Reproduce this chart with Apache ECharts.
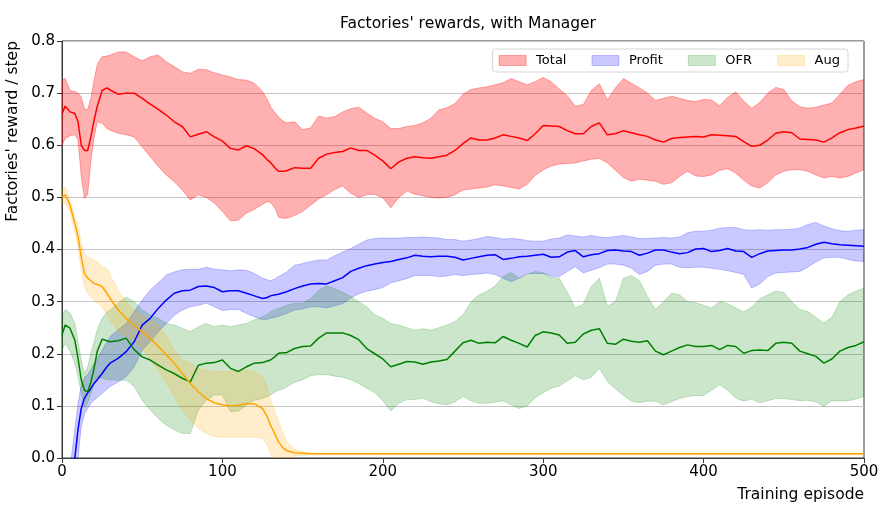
<!DOCTYPE html>
<html>
<head>
<meta charset="utf-8">
<script src="https://cdn.jsdelivr.net/npm/echarts@6/dist/echarts.min.js"></script>
<style>
html,body{margin:0;padding:0;background:#fff;}
#chart{width:891px;height:509px;}
</style>
</head>
<body>
<div id="chart"></div>
<script>
// ---------- DATA ----------
const episodes = [
  0,2,5,8,10,12,14,16,18,20,22,25,28,30,
  35,40,45,50,55,60,65,70,75,80,85,90,95,100,105,110,115,120,125,
  128,130,133,135,138,140,
  145,150,155,160,165,170,175,180,185,190,
  195,200,205,210,215,220,225,230,235,240,
  245,250,255,260,265,270,275,280,285,290,
  295,300,305,310,315,320,325,330,335,340,
  345,350,355,360,365,370,375,380,385,390,
  395,400,405,410,415,420,425,430,435,440,
  445,450,455,460,465,470,475,480,485,490,
  495,500
];

// Total
const totalMean = [
  0.660,0.675,0.664,0.661,0.645,0.600,0.590,0.590,0.616,0.648,0.675,0.705,0.710,0.706,
  0.698,0.700,0.700,0.690,0.679,0.669,0.658,0.645,0.636,0.616,0.621,0.626,0.616,0.608,0.594,0.591,0.599,0.593,0.582,
  0.572,0.567,0.556,0.550,0.550,0.551,
  0.557,0.556,0.556,0.575,0.583,0.586,0.588,0.595,0.590,0.590,
  0.581,0.570,0.555,0.568,0.575,0.578,0.576,0.575,0.578,0.581,
  0.590,0.603,0.614,0.610,0.610,0.614,0.620,0.617,0.614,0.609,
  0.622,0.638,0.637,0.636,0.628,0.622,0.622,0.636,0.643,0.620,
  0.622,0.628,0.624,0.620,0.617,0.610,0.606,0.613,0.615,0.616,
  0.617,0.616,0.620,0.619,0.618,0.617,0.607,0.598,0.600,0.610,
  0.623,0.626,0.624,0.612,0.611,0.610,0.606,0.614,0.624,0.630,
  0.633,0.637
];
const totalHigh = [
  0.725,0.728,0.705,0.703,0.700,0.693,0.670,0.668,0.690,0.725,0.755,0.770,0.771,0.773,
  0.779,0.779,0.770,0.762,0.770,0.773,0.760,0.751,0.741,0.738,0.746,0.745,0.739,0.735,0.731,0.726,0.725,0.719,0.703,
  0.688,0.674,0.662,0.654,0.646,0.643,
  0.645,0.630,0.633,0.656,0.652,0.655,0.664,0.670,0.673,0.662,
  0.652,0.645,0.632,0.632,0.636,0.638,0.643,0.652,0.668,0.672,
  0.680,0.698,0.707,0.710,0.712,0.716,0.720,0.728,0.722,0.716,
  0.722,0.730,0.722,0.708,0.695,0.675,0.678,0.705,0.718,0.687,
  0.710,0.728,0.719,0.710,0.700,0.686,0.690,0.694,0.690,0.686,
  0.684,0.688,0.687,0.676,0.692,0.702,0.685,0.671,0.682,0.700,
  0.711,0.707,0.685,0.674,0.671,0.673,0.677,0.681,0.698,0.715,
  0.722,0.726
];
const totalLow = [
  0.600,0.613,0.618,0.620,0.610,0.540,0.498,0.505,0.570,0.615,0.645,0.642,0.632,0.629,
  0.623,0.620,0.616,0.597,0.578,0.559,0.543,0.530,0.514,0.495,0.505,0.500,0.489,0.473,0.455,0.456,0.470,0.477,0.487,
  0.492,0.490,0.478,0.462,0.460,0.460,
  0.465,0.473,0.485,0.497,0.505,0.515,0.522,0.508,0.500,0.505,
  0.506,0.499,0.480,0.500,0.512,0.506,0.503,0.500,0.499,0.500,
  0.505,0.514,0.516,0.518,0.520,0.524,0.522,0.519,0.516,0.525,
  0.542,0.553,0.560,0.564,0.565,0.566,0.570,0.573,0.575,0.566,
  0.552,0.538,0.531,0.535,0.533,0.531,0.525,0.528,0.540,0.550,
  0.541,0.540,0.543,0.552,0.555,0.547,0.533,0.522,0.518,0.528,
  0.543,0.550,0.553,0.553,0.550,0.543,0.537,0.540,0.537,0.540,
  0.547,0.553
];

// Profit
const profitMean = [
  '-','-',-0.070,0.000,0.055,0.095,0.115,0.125,0.133,0.143,0.150,0.162,0.175,0.182,
  0.191,0.204,0.223,0.255,0.268,0.287,0.303,0.316,0.321,0.322,0.329,0.330,0.327,0.319,0.321,0.321,0.316,0.311,0.306,
  0.308,0.311,0.313,0.314,0.317,0.319,
  0.325,0.330,0.334,0.335,0.334,0.340,0.346,0.358,0.364,0.369,
  0.372,0.375,0.377,0.381,0.384,0.389,0.387,0.386,0.387,0.387,
  0.385,0.380,0.383,0.386,0.389,0.390,0.381,0.383,0.386,0.387,
  0.389,0.391,0.385,0.386,0.395,0.398,0.386,0.390,0.392,0.398,
  0.399,0.397,0.396,0.389,0.393,0.399,0.399,0.395,0.392,0.394,
  0.401,0.402,0.396,0.398,0.402,0.397,0.396,0.385,0.392,0.397,
  0.398,0.399,0.399,0.401,0.404,0.410,0.414,0.411,0.409,0.408,
  0.407,0.406
];
const profitHigh = [
  '-','-',-0.020,0.055,0.105,0.140,0.155,0.160,0.170,0.182,0.190,0.207,0.222,0.233,
  0.246,0.258,0.281,0.303,0.322,0.336,0.351,0.357,0.361,0.362,0.362,0.366,0.362,0.361,0.359,0.361,0.360,0.354,0.345,
  0.342,0.340,0.344,0.348,0.353,0.357,
  0.370,0.373,0.377,0.380,0.380,0.388,0.395,0.402,0.410,0.418,
  0.421,0.422,0.422,0.422,0.423,0.423,0.424,0.423,0.422,0.419,
  0.419,0.416,0.418,0.421,0.425,0.423,0.420,0.421,0.420,0.417,
  0.416,0.416,0.420,0.422,0.428,0.426,0.424,0.427,0.424,0.423,
  0.425,0.427,0.424,0.421,0.421,0.422,0.423,0.422,0.424,0.432,
  0.435,0.435,0.437,0.441,0.442,0.442,0.438,0.437,0.438,0.437,
  0.438,0.438,0.439,0.441,0.448,0.452,0.445,0.440,0.436,0.435,
  0.437,0.438
];
const profitLow = [
  '-','-',-0.120,-0.050,0.000,0.060,0.085,0.095,0.105,0.111,0.116,0.124,0.132,0.137,
  0.146,0.156,0.175,0.207,0.223,0.242,0.258,0.274,0.284,0.290,0.293,0.297,0.290,0.283,0.285,0.285,0.277,0.271,0.265,
  0.266,0.268,0.270,0.272,0.275,0.277,
  0.284,0.286,0.290,0.290,0.288,0.292,0.296,0.307,0.315,0.320,
  0.323,0.327,0.336,0.340,0.344,0.350,0.350,0.350,0.348,0.349,
  0.352,0.350,0.352,0.353,0.355,0.352,0.345,0.338,0.345,0.354,
  0.354,0.354,0.349,0.348,0.358,0.367,0.355,0.360,0.365,0.372,
  0.372,0.370,0.364,0.352,0.358,0.370,0.372,0.372,0.366,0.365,
  0.366,0.366,0.364,0.362,0.359,0.356,0.352,0.326,0.334,0.348,
  0.355,0.356,0.357,0.358,0.366,0.376,0.384,0.385,0.385,0.381,
  0.378,0.377
];

// OFR
const ofrMean = [
  0.236,0.255,0.249,0.226,0.191,0.150,0.130,0.127,0.145,0.172,0.205,0.228,0.225,0.223,
  0.225,0.230,0.208,0.194,0.188,0.178,0.169,0.162,0.153,0.146,0.178,0.182,0.183,0.188,0.172,0.166,0.175,0.182,0.183,
  0.186,0.188,0.195,0.201,0.202,0.202,
  0.210,0.214,0.215,0.230,0.240,0.240,0.240,0.235,0.227,0.210,
  0.200,0.190,0.175,0.180,0.185,0.184,0.180,0.184,0.186,0.189,
  0.205,0.221,0.226,0.220,0.222,0.221,0.233,0.226,0.220,0.213,
  0.235,0.242,0.240,0.236,0.220,0.222,0.238,0.245,0.248,0.220,
  0.218,0.228,0.224,0.222,0.225,0.205,0.198,0.205,0.212,0.217,
  0.214,0.214,0.216,0.208,0.216,0.214,0.201,0.206,0.207,0.206,
  0.220,0.222,0.220,0.205,0.200,0.195,0.182,0.190,0.205,0.212,
  0.216,0.223
];
const ofrHigh = [
  0.271,0.285,0.278,0.258,0.223,0.188,0.162,0.175,0.201,0.223,0.246,0.268,0.280,0.284,
  0.297,0.309,0.300,0.284,0.274,0.268,0.258,0.255,0.249,0.242,0.252,0.258,0.252,0.255,0.252,0.255,0.258,0.265,0.271,
  0.276,0.281,0.285,0.287,0.290,0.293,
  0.297,0.297,0.306,0.322,0.330,0.325,0.318,0.310,0.300,0.290,
  0.275,0.268,0.258,0.255,0.250,0.245,0.248,0.245,0.250,0.255,
  0.262,0.275,0.300,0.313,0.320,0.330,0.348,0.356,0.345,0.352,
  0.358,0.355,0.347,0.345,0.318,0.288,0.295,0.329,0.345,0.291,
  0.300,0.345,0.350,0.340,0.310,0.285,0.300,0.316,0.313,0.300,
  0.298,0.293,0.288,0.300,0.296,0.288,0.280,0.290,0.305,0.313,
  0.320,0.318,0.300,0.285,0.281,0.270,0.259,0.270,0.300,0.313,
  0.320,0.326
];
const ofrLow = [
  0.207,0.220,0.205,0.182,0.156,0.124,0.098,0.105,0.124,0.143,0.156,0.153,0.150,0.150,
  0.149,0.149,0.137,0.111,0.092,0.076,0.063,0.054,0.047,0.047,0.092,0.111,0.121,0.121,0.089,0.090,0.102,0.111,0.114,
  0.118,0.121,0.127,0.130,0.133,0.136,
  0.145,0.150,0.158,0.160,0.160,0.157,0.155,0.150,0.143,0.134,
  0.125,0.110,0.090,0.105,0.112,0.112,0.115,0.108,0.104,0.102,
  0.108,0.118,0.110,0.105,0.105,0.107,0.110,0.102,0.095,0.100,
  0.115,0.125,0.134,0.138,0.148,0.158,0.150,0.155,0.172,0.147,
  0.133,0.120,0.109,0.106,0.109,0.109,0.102,0.108,0.114,0.118,
  0.120,0.120,0.130,0.141,0.130,0.115,0.109,0.113,0.106,0.110,
  0.114,0.114,0.112,0.110,0.111,0.108,0.099,0.110,0.109,0.110,
  0.113,0.118
];

// Aug
const augMean = [
  0.501,0.505,0.485,0.450,0.425,0.386,0.354,0.345,0.340,0.335,0.333,0.329,0.316,0.306,
  0.284,0.268,0.255,0.242,0.230,0.214,0.198,0.182,0.162,0.143,0.127,0.114,0.106,0.102,0.100,0.101,0.104,0.104,0.095,
  0.079,0.063,0.044,0.031,0.019,0.014,
  0.010,0.009,0.008,0.008,0.008,0.008,0.008,0.008,0.008,0.008,
  0.008,0.008,0.008,0.008,0.008,0.008,0.008,0.008,0.008,0.008,
  0.008,0.008,0.008,0.008,0.008,0.008,0.008,0.008,0.008,0.008,
  0.008,0.008,0.008,0.008,0.008,0.008,0.008,0.008,0.008,0.008,
  0.008,0.008,0.008,0.008,0.008,0.008,0.008,0.008,0.008,0.008,
  0.008,0.008,0.008,0.008,0.008,0.008,0.008,0.008,0.008,0.008,
  0.008,0.008,0.008,0.008,0.008,0.008,0.008,0.008,0.008,0.008,
  0.008,0.008
];
const augHigh = [
  0.514,0.520,0.495,0.463,0.444,0.412,0.393,0.386,0.383,0.380,0.376,0.367,0.364,0.351,
  0.322,0.300,0.284,0.274,0.265,0.255,0.233,0.207,0.188,0.182,0.172,0.169,0.166,0.166,0.166,0.166,0.168,0.166,0.156,
  0.137,0.111,0.086,0.070,0.047,0.031,
  0.017,0.012,0.010,0.009,0.009,0.009,0.009,0.009,0.009,0.009,
  0.009,0.009,0.009,0.009,0.009,0.009,0.009,0.009,0.009,0.009,
  0.009,0.009,0.009,0.009,0.009,0.009,0.009,0.009,0.009,0.009,
  0.009,0.009,0.009,0.009,0.009,0.009,0.009,0.009,0.009,0.009,
  0.009,0.009,0.009,0.009,0.009,0.009,0.009,0.009,0.009,0.009,
  0.009,0.009,0.009,0.009,0.009,0.009,0.009,0.009,0.009,0.009,
  0.009,0.009,0.009,0.009,0.009,0.009,0.009,0.009,0.009,0.009,
  0.009,0.009
];
const augLow = [
  0.489,0.489,0.473,0.437,0.405,0.361,0.329,0.316,0.309,0.303,0.298,0.290,0.275,0.265,
  0.242,0.233,0.223,0.210,0.188,0.169,0.143,0.118,0.092,0.073,0.057,0.047,0.041,0.040,0.040,0.040,0.040,0.040,0.038,
  0.025,0.009,-0.010,-0.020,-0.015,-0.005,
  0.004,0.005,0.006,0.006,0.006,0.006,0.006,0.006,0.006,0.006,
  0.006,0.006,0.006,0.006,0.006,0.006,0.006,0.006,0.006,0.006,
  0.006,0.006,0.006,0.006,0.006,0.006,0.006,0.006,0.006,0.006,
  0.006,0.006,0.006,0.006,0.006,0.006,0.006,0.006,0.006,0.006,
  0.006,0.006,0.006,0.006,0.006,0.006,0.006,0.006,0.006,0.006,
  0.006,0.006,0.006,0.006,0.006,0.006,0.006,0.006,0.006,0.006,
  0.006,0.006,0.006,0.006,0.006,0.006,0.006,0.006,0.006,0.006,
  0.006,0.006
];

const seriesNames = ['Total','Profit','OFR','Aug'];
const xTicks = [0,100,200,300,400,500];
const yTicks = [0,0.1,0.2,0.3,0.4,0.5,0.6,0.7,0.8];

// ---------- CHART ----------
const FONT = 'DejaVu Sans';
const groups = [
  {name:'Total',  mean: totalMean,  low: totalLow,  high: totalHigh,  fill:'rgba(255,0,0,0.31)',   line:'#ff0000'},
  {name:'Profit', mean: profitMean, low: profitLow, high: profitHigh, fill:'rgba(0,0,255,0.21)',   line:'#0000ff'},
  {name:'OFR',    mean: ofrMean,    low: ofrLow,    high: ofrHigh,    fill:'rgba(0,128,0,0.2)',    line:'#008000'},
  {name:'Aug',    mean: augMean,    low: augLow,    high: augHigh,    fill:'rgba(255,165,0,0.2)',  line:'#ffa500'}
];
groups.forEach(g => {
  ['mean','low','high'].forEach(k => {
    if (g[k].length !== episodes.length) throw new Error(g.name + ' ' + k + ' length ' + g[k].length + ' != ' + episodes.length);
  });
});
const isNum = v => typeof v === 'number';

// Band drawn as a polygon through the library's coordinate system (api.coord)
function bandSeries(g) {
  const idx = episodes.map((x, i) => i).filter(i => isNum(g.low[i]) && isNum(g.high[i]));
  return {
    name: g.name, type: 'custom', clip: true, silent: true, z: 2,
    color: g.fill,
    itemStyle: {color: g.fill},
    data: [[episodes[idx[0]], g.low[idx[0]]]],
    encode: {x: 0, y: 1},
    renderItem: function (params, api) {
      const pts = [];
      idx.forEach(i => pts.push(api.coord([episodes[i], g.high[i]])));
      for (let k = idx.length - 1; k >= 0; k--) {
        const i = idx[k];
        pts.push(api.coord([episodes[i], g.low[i]]));
      }
      const cs = params.coordSys;
      return {
        type: 'polygon',
        shape: {points: pts},
        style: {fill: g.fill, stroke: g.fill, lineWidth: 1},
        clipPath: {type: 'rect', shape: {x: cs.x, y: cs.y, width: cs.width, height: cs.height}}
      };
    }
  };
}

const series = [];
groups.forEach(g => series.push(bandSeries(g)));
groups.forEach(g => {
  series.push({
    name: g.name + ' mean', type: 'line',
    data: episodes.map((x, i) => [x, g.mean[i]]),
    symbol: 'none', showSymbol: false, silent: true, clip: true,
    color: g.line,
    lineStyle: {color: g.line, width: 1.5},
    z: 3
  });
});

const chart = echarts.init(document.getElementById('chart'), null, {renderer: 'canvas'});
chart.setOption({
  animation: false,
  backgroundColor: '#ffffff',
  textStyle: {fontFamily: FONT},
  title: {
    text: "Factories' rewards, with Manager",
    left: 463, top: 11, textAlign: 'center',
    textStyle: {fontFamily: FONT, fontSize: 15.5, fontWeight: 'normal', color: '#000'}
  },
  grid: {left: 62, right: 27, top: 41, bottom: 51, show: true, borderColor: '#3a3a3a', borderWidth: 1, backgroundColor: 'transparent'},
  legend: {
    data: groups.map(g => ({name: g.name, icon: 'rect', itemStyle: {color: g.fill, borderColor: g.fill, borderWidth: 1}})),
    right: 43, top: 49,
    orient: 'horizontal',
    itemWidth: 27, itemHeight: 10, itemGap: 25,
    padding: [5, 8, 5, 6],
    backgroundColor: '#ffffff', borderColor: '#d6d6d6', borderWidth: 1, borderRadius: 3,
    selectedMode: false,
    textStyle: {fontFamily: FONT, fontSize: 13, color: '#000', padding: [0, 0, 0, 5]}
  },
  xAxis: {
    type: 'value', min: xTicks[0], max: xTicks[xTicks.length - 1], interval: 100,
    axisLine: {show: true, onZero: false, lineStyle: {color: '#3a3a3a', width: 1}},
    axisTick: {show: true, length: 5, lineStyle: {color: '#3a3a3a'}},
    axisLabel: {fontFamily: FONT, fontSize: 15, color: '#000', margin: 7},
    splitLine: {show: false}
  },
  yAxis: {
    type: 'value', min: yTicks[0], max: yTicks[yTicks.length - 1], interval: 0.1,
    axisLine: {show: true, onZero: false, lineStyle: {color: '#3a3a3a', width: 1}},
    axisTick: {show: true, length: 5, lineStyle: {color: '#3a3a3a'}},
    axisLabel: {fontFamily: FONT, fontSize: 15, color: '#000', margin: 7, formatter: v => v.toFixed(1)},
    splitLine: {show: true, lineStyle: {color: '#c4c4c4', width: 1}}
  },
  graphic: [
    {type: 'text', x: 13, y: 41, rotation: Math.PI / 2,
     style: {text: "Factories' reward / step", fontFamily: FONT, fontSize: 15.5, fill: '#000', align: 'right', verticalAlign: 'middle'}},
    {type: 'text', x: 864, y: 495,
     style: {text: 'Training episode', fontFamily: FONT, fontSize: 15.5, fill: '#000', align: 'right', verticalAlign: 'middle'}}
  ],
  series: series
});
</script>
</body>
</html>
